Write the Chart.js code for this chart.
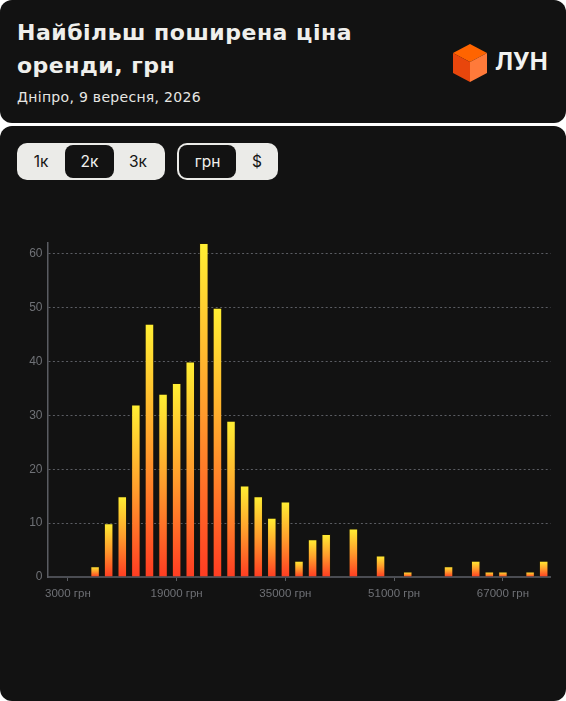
<!DOCTYPE html>
<html lang="uk">
<head>
<meta charset="utf-8">
<script src="https://cdn.jsdelivr.net/npm/chart.js@4.4.1/dist/chart.umd.min.js"></script>
<style>
  html, body { margin: 0; padding: 0; background: #ffffff; }
  body { width: 566px; height: 701px; position: relative; overflow: hidden; font-family: Inter, "Noto Sans", sans-serif; }
  .card { position: absolute; left: 0; width: 566px; background: #121212; border-radius: 12px; }
  .head { top: 0; height: 123px; }
  .body { top: 126px; height: 575px; }
  .title { position: absolute; left: 17px; top: 16px; color: #efefec; font-family: "DejaVu Sans", sans-serif; font-weight: 700; font-size: 22px; line-height: 33px; letter-spacing: 0.5px; }
  .sub { position: absolute; left: 17px; top: 87px; color: #e6e6e3; font-family: "DejaVu Sans", sans-serif; font-size: 14px; line-height: 20px; letter-spacing: 0.3px; }
  .logo { position: absolute; left: 452px; top: 43px; }
  .logo-txt { position: absolute; left: 495px; top: 46px; color: #f2f2f0; font-weight: 700; font-size: 24px; line-height: 32px; }
  .grp { position: absolute; top: 143px; height: 37px; background: #ebebe8; border-radius: 10px; }
  .btn { position: absolute; top: 0; height: 37px; line-height: 37px; text-align: center; font-size: 15.5px; color: #151515; }
  .btn.on { top: 2px; height: 33px; line-height: 33px; background: #121212; color: #f0f0ee; border-radius: 8px; }
  #wrap { position: absolute; left: 0; top: 200px; width: 566px; height: 407px; }
</style>
</head>
<body>
<div class="card head">
  <div class="title">Найбільш поширена ціна<br>оренди, грн</div>
  <div class="sub">Дніпро, 9 вересня, 2026</div>
</div>
<svg class="logo" width="36" height="40" viewBox="0 0 36 40">
  <polygon points="18,1 35,10 18,19 1,10" fill="#ff6400"/>
  <polygon points="1,10 18,19 18,39 1,30" fill="#e8460c"/>
  <polygon points="18,19 35,10 35,30 18,39" fill="#ff7a3a"/>
</svg>
<div class="logo-txt">ЛУН</div>
<div class="card body"></div>
<div class="grp" style="left:17px;width:148px;">
  <div class="btn" style="left:0;width:48px;">1к</div>
  <div class="btn on" style="left:48px;width:49px;">2к</div>
  <div class="btn" style="left:97px;width:48px;">3к</div>
</div>
<div class="grp" style="left:177px;width:101px;">
  <div class="btn on" style="left:2px;width:57px;">грн</div>
  <div class="btn" style="left:59px;width:42px;">$</div>
</div>
<div id="wrap"><canvas id="histChart"></canvas></div>

<script>
// центри кошиків по 2000 грн
const priceBins = [1000, 3000, 5000, 7000, 9000, 11000, 13000, 15000, 17000, 19000,
  21000, 23000, 25000, 27000, 29000, 31000, 33000, 35000, 37000, 39000,
  41000, 43000, 45000, 47000, 49000, 51000, 53000, 55000, 57000, 59000,
  61000, 63000, 65000, 67000, 69000, 71000, 73000];
const counts = [0, 0, 0, 2, 10, 15, 32, 47, 34, 36,
  40, 62, 50, 29, 17, 15, 11, 14, 3, 7,
  8, 0, 9, 0, 4, 0, 1, 0, 0, 2,
  0, 3, 1, 1, 0, 1, 3];
// підписані поділки на осі X
const labeledPrices = [3000, 19000, 35000, 51000, 67000];
const yTicks = [0, 10, 20, 30, 40, 50, 60];

document.addEventListener('DOMContentLoaded', function() {
    const tickFont = { family: '"Liberation Sans", Arial, sans-serif', size: 11.5 };

    // градієнт для кожного стовпчика окремо: жовтий зверху, червоний знизу
    function barGradient(ctx) {
        const chart = ctx.chart;
        const yScale = chart.scales.y;
        if (!chart.chartArea || !yScale || ctx.raw == null) return '#ff9a2e';
        const top = yScale.getPixelForValue(ctx.raw);
        const base = yScale.getPixelForValue(0);
        if (!isFinite(top) || base - top < 1) return '#ff9a2e';
        const g = chart.ctx.createLinearGradient(0, top, 0, base);
        g.addColorStop(0, '#ffef33');
        g.addColorStop(0.5, '#ff9c2c');
        g.addColorStop(1, '#ff3c22');
        return g;
    }

    const config = {
        type: 'bar',
        data: {
            labels: priceBins.map(v => `${v} грн`),
            datasets: [{
                label: 'Кількість',
                data: counts,
                backgroundColor: barGradient,
                borderColor: 'rgba(40, 30, 0, 0.45)',
                borderWidth: 1,
                categoryPercentage: 0.7,
                barPercentage: 1
            }]
        },
        options: {
            responsive: true,
            maintainAspectRatio: false,
            animation: false,
            layout: { padding: { top: 43, right: 15.5, left: 0, bottom: 0 } },
            scales: {
                x: {
                    afterFit: (scale) => { scale.height = 30; },
                    grid: {
                        offset: false,
                        drawOnChartArea: false,
                        drawTicks: true,
                        tickLength: 4,
                        color: '#5a5c62'
                    },
                    border: { display: true, color: '#4a4c52', width: 2 },
                    ticks: {
                        autoSkip: false,
                        maxRotation: 0,
                        padding: 6,
                        color: '#6f7176',
                        font: tickFont,
                        callback: function(value, index) {
                            return labeledPrices.includes(priceBins[index]) ? `${priceBins[index]} грн` : null;
                        }
                    }
                },
                y: {
                    min: 0,
                    max: Math.max(...counts),
                    afterFit: (scale) => { scale.width = 47.5; },
                    grid: {
                        color: '#5b5d63',
                        lineWidth: 1,
                        drawTicks: false
                    },
                    border: { display: true, color: '#5a5c62', width: 1.5, dash: [2, 2.4] },
                    ticks: {
                        stepSize: 10,
                        includeBounds: false,
                        padding: 5,
                        color: '#6f7176',
                        font: { family: '"Liberation Sans", Arial, sans-serif', size: 12 },
                        callback: (value) => yTicks.includes(value) ? value : null
                    }
                }
            },
            plugins: {
                legend: { display: false },
                tooltip: { enabled: false }
            }
        }
    };

    new Chart(document.getElementById('histChart'), config);
});
</script>
</body>
</html>
